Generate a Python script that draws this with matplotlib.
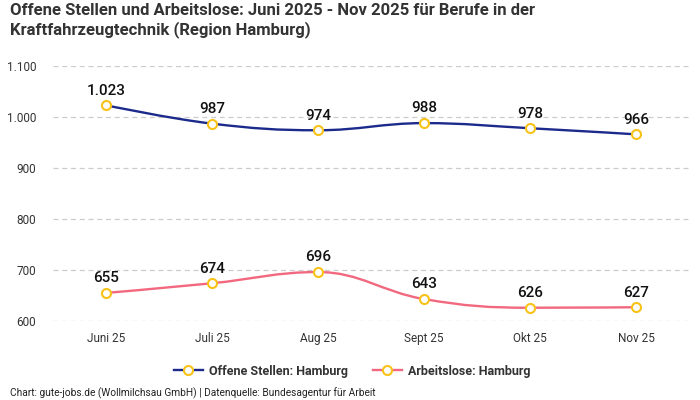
import matplotlib
matplotlib.use("Agg")
import matplotlib.pyplot as plt
from matplotlib.path import Path
from matplotlib.patches import PathPatch
from matplotlib.lines import Line2D
from matplotlib.ticker import FuncFormatter

plt.rcParams['font.family'] = ['Roboto', 'DejaVu Sans']

months = ['Juni 25', 'Juli 25', 'Aug 25', 'Sept 25', 'Okt 25', 'Nov 25']
offene_stellen = [1023, 987, 974, 988, 978, 966]
arbeitslose = [655, 674, 696, 643, 626, 627]
y_ticks = [600, 700, 800, 900, 1000, 1100]

BLUE = '#1c2a8c'
PINK = '#f2687f'
YELLOW = '#f7c31a'
TEXT = '#333333'


def de_num(v):
    return f'{int(v):,}'.replace(',', '.')


def spline_path(xs, ys, smoothing=1.5):
    # highcharts-like spline: bezier control points per point
    denom = smoothing + 1
    n = len(xs)
    left = [(xs[i], ys[i]) for i in range(n)]
    right = [(xs[i], ys[i]) for i in range(n)]
    for i in range(1, n - 1):
        x, y = xs[i], ys[i]
        lx, ly = xs[i - 1], ys[i - 1]
        nx, ny = xs[i + 1], ys[i + 1]
        lcx = (smoothing * x + lx) / denom
        lcy = (smoothing * y + ly) / denom
        rcx = (smoothing * x + nx) / denom
        rcy = (smoothing * y + ny) / denom
        if rcx != lcx:
            corr = (rcy - lcy) * (rcx - x) / (rcx - lcx) + y - rcy
            lcy += corr
            rcy += corr
        if lcy > max(ly, y):
            lcy = max(ly, y)
            rcy = 2 * y - lcy
        elif lcy < min(ly, y):
            lcy = min(ly, y)
            rcy = 2 * y - lcy
        if rcy > max(y, ny):
            rcy = max(y, ny)
            lcy = 2 * y - rcy
        elif rcy < min(y, ny):
            rcy = min(y, ny)
            lcy = 2 * y - rcy
        left[i] = (lcx, lcy)
        right[i] = (rcx, rcy)
    verts = [(xs[0], ys[0])]
    codes = [Path.MOVETO]
    for i in range(1, n):
        verts += [right[i - 1], left[i], (xs[i], ys[i])]
        codes += [Path.CURVE4] * 3
    return Path(verts, codes)


fig = plt.figure(figsize=(7, 4), dpi=100)
ax = fig.add_axes([53 / 700, (400 - 321) / 400, (689 - 53) / 700, (321 - 66) / 400])

x = list(range(len(months)))
for values, color in [(offene_stellen, BLUE), (arbeitslose, PINK)]:
    ax.add_patch(PathPatch(spline_path(x, values), facecolor='none',
                           edgecolor=color, lw=1.7, zorder=3))
    ax.plot(x, values, linestyle='none', marker='o', markersize=6.5,
            markerfacecolor='white', markeredgecolor=YELLOW,
            markeredgewidth=1.5, zorder=4, clip_on=False)
    for xi, v in zip(x, values):
        ax.annotate(de_num(v), (xi, v), xytext=(0, 5.5), textcoords='offset points',
                    ha='center', va='bottom', fontsize=11, fontweight='medium',
                    color='#111111', zorder=5)

ax.set_xlim(-0.5, len(months) - 0.5)
ax.set_ylim(600, 1100)
ax.set_yticks(y_ticks)
ax.yaxis.set_major_formatter(FuncFormatter(lambda v, p: de_num(v)))
ax.set_xticks(x)
ax.set_xticklabels(months)
ax.tick_params(length=0, labelsize=8.5, colors=TEXT)
ax.tick_params(axis='y', pad=12)
ax.tick_params(axis='x', pad=8)
ax.grid(axis='y', color='#cccccc', linestyle=(0, (4, 3)), lw=0.9)
ax.set_axisbelow(True)
for s in ax.spines.values():
    s.set_visible(False)

fig.text(10 / 700, 1 - 3 / 400,
         'Offene Stellen und Arbeitslose: Juni 2025 - Nov 2025 für Berufe in der\nKraftfahrzeugtechnik (Region Hamburg)',
         ha='left', va='top', fontsize=12, fontweight='bold', color=TEXT, linespacing=1.2)

handles = [
    Line2D([], [], color=BLUE, lw=1.7, marker='o', markersize=6.5, markerfacecolor='white',
           markeredgecolor=YELLOW, markeredgewidth=1.5),
    Line2D([], [], color=PINK, lw=1.7, marker='o', markersize=6.5, markerfacecolor='white',
           markeredgecolor=YELLOW, markeredgewidth=1.5),
]
leg = fig.legend(handles, ['Offene Stellen: Hamburg', 'Arbeitslose: Hamburg'],
                 loc='center', bbox_to_anchor=(352 / 700, 1 - 371 / 400), ncol=2,
                 frameon=False, fontsize=9, handlelength=2.3, columnspacing=2.0,
                 handletextpad=0.5)
for t in leg.get_texts():
    t.set_fontweight('bold')
    t.set_color(TEXT)

fig.text(10 / 700, 1 - 393 / 400,
         'Chart: gute-jobs.de (Wollmilchsau GmbH) | Datenquelle: Bundesagentur für Arbeit',
         ha='left', va='center', fontsize=7.3, color='#222222')

fig.savefig('out.png', dpi=100)
